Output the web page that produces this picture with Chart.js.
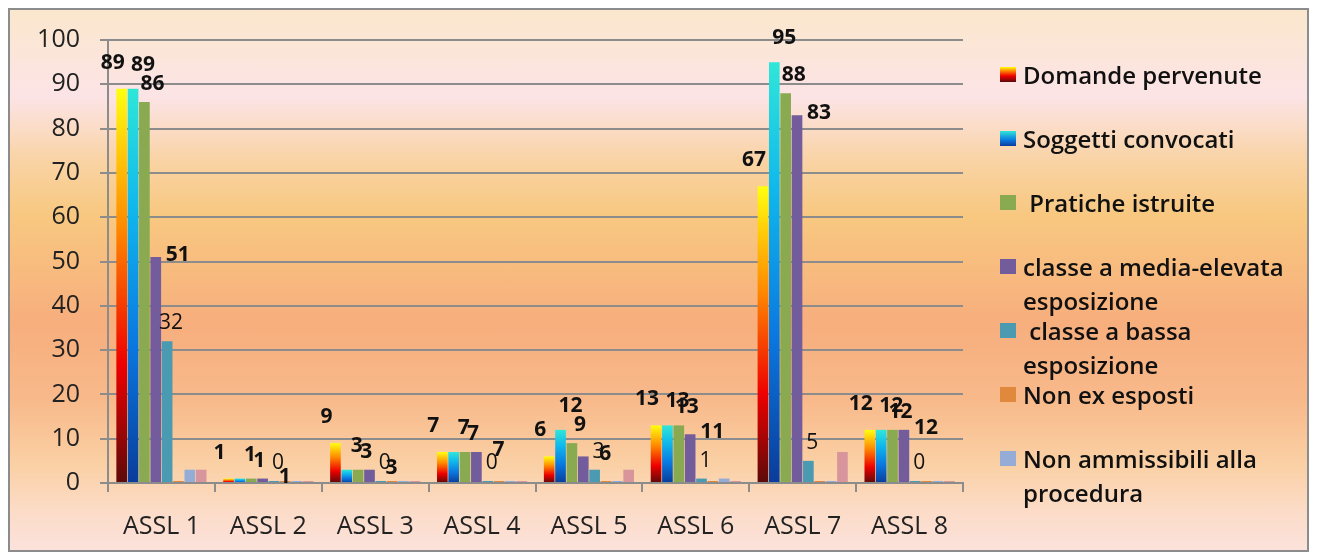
<!DOCTYPE html>
<html lang="it">
<head>
<meta charset="utf-8">
<title>ASSL – domande e pratiche</title>
<script src="https://cdn.jsdelivr.net/npm/chart.js@4.4.1/dist/chart.umd.min.js"></script>
<style>
  html, body { margin: 0; padding: 0; background: #fff; }
  #wrap {
    position: relative;
    width: 1317px; height: 558px;
  }
  #frame {
    position: absolute; left: 8px; top: 8px; width: 1297px; height: 540px;
    border: 2px solid #8c8c8c;
    background: linear-gradient(to bottom, #fbe7cd 0%, #fce4e6 16%, #f9d3a4 28%, #f8c880 38%, #f7ae7d 58%, #f8b98a 72%, #fad0a4 84%, #fcdcc8 93%, #fce2dc 100%);
  }
  canvas { position: absolute; left: 0; top: 0; }
  #legend {
    position: absolute; left: 0; top: 0;
    font-family: 'Open Sans', 'Noto Sans', sans-serif;
    font-size: 24px; font-weight: 600; color: #111;
  }
  .item { position: absolute; left: 1000px; width: 305px; line-height: 34px; }
  .item .sw { position: absolute; left: 0; top: 9px; width: 16px; height: 15px; }
  .item .tx { margin-left: 23px; white-space: pre-wrap; }
</style>
</head>
<body>
<div id="wrap">
  <div id="frame"></div>
  <canvas id="chart" width="1317" height="558"></canvas>
  <div id="legend"></div>
</div>
<script>
/* ---------- Data ---------- */
const categories = ['ASSL 1', 'ASSL 2', 'ASSL 3', 'ASSL 4', 'ASSL 5', 'ASSL 6', 'ASSL 7', 'ASSL 8'];
const domandePervenute   = [89, 1, 9, 7, 6, 13, 67, 12];
const soggettiConvocati  = [89, 1, 3, 7, 12, 13, 95, 12];
const praticheIstruite   = [86, 1, 3, 7, 9, 13, 88, 12];
const mediaElevata       = [51, 1, 3, 7, 6, 11, 83, 12];
const bassaEsposizione   = [32, 0, 0, 0, 3, 1, 5, 0];
const nonExEsposti       = [0, 0, 0, 0, 0, 0, 0, 0];
const nonAmmissibili     = [3, 0, 0, 0, 0, 1, 0, 0];
const serie8             = [3, 0, 0, 0, 3, 0, 7, 0];
const yTicks = [0, 10, 20, 30, 40, 50, 60, 70, 80, 90, 100];

const seriesNames = [
  'Domande pervenute',
  'Soggetti convocati',
  ' Pratiche istruite',
  'classe a media-elevata esposizione',
  ' classe a bassa esposizione',
  'Non ex esposti',
  'Non ammissibili alla procedura',
  'Serie 8',
];

/* ---------- Helpers ---------- */
const FONT = "'Open Sans', 'Noto Sans', sans-serif";

// vertical gradient per bar (bottom -> top)
function barGradient(stops, fallback) {
  return function (ctx) {
    const chart = ctx.chart;
    if (!chart.chartArea || ctx.raw === undefined) return fallback;
    const y = chart.scales.y;
    let top = y.getPixelForValue(ctx.raw);
    const bottom = y.getPixelForValue(0);
    if (bottom - top < 2) top = bottom - 2;
    const g = chart.ctx.createLinearGradient(0, bottom, 0, top);
    stops.forEach(s => g.addColorStop(s[0], s[1]));
    return g;
  };
}

const colors = [
  barGradient([[0, '#5c0a0a'], [0.3, '#ee0000'], [0.65, '#ff8a00'], [1, '#ffff10']], '#ff6000'),
  barGradient([[0, '#0a3c9a'], [0.35, '#0a78e0'], [0.7, '#10b8ec'], [1, '#30e6d8']], '#10a0e0'),
  '#8aaa52',
  '#735c9c',
  '#4a9ab2',
  '#e0883c',
  '#94acd6',
  '#d8969c',
];
const legendSwatch = [
  'linear-gradient(to top, #5c0a0a, #ee0000 40%, #ff8a00 75%, #ffff10)',
  'linear-gradient(to top, #0a3c9a, #0a78e0 40%, #30e6d8)',
  '#8aaa52', '#735c9c', '#4a9ab2', '#e0883c', '#94acd6',
];

const seriesData = [domandePervenute, soggettiConvocati, praticheIstruite, mediaElevata,
  bassaEsposizione, nonExEsposti, nonAmmissibili, serie8];

/* ---------- Value labels ---------- */
const labelOffsets = [[-9, -26], [10, -24], [8, -18], [22, -2], [4, -18]];
const valueLabels = {
  id: 'valueLabels',
  afterDatasetsDraw(chart) {
    const ctx = chart.ctx;
    ctx.save();
    ctx.fillStyle = '#111';
    ctx.textAlign = 'center';
    ctx.textBaseline = 'middle';
    labelOffsets.forEach((off, di) => {
      const meta = chart.getDatasetMeta(di);
      ctx.font = (di === 4 ? '400 ' : '700 ') + '21px ' + FONT;
      meta.data.forEach((bar, i) => {
        const v = chart.data.datasets[di].data[i];
        ctx.fillText(String(v), bar.x + off[0], bar.y + off[1]);
      });
    });
    ctx.restore();
  },
};

/* ---------- Chart ---------- */
const chart = new Chart(document.getElementById('chart'), {
  type: 'bar',
  data: {
    labels: categories,
    datasets: seriesData.map((d, i) => ({
      label: seriesNames[i],
      data: d,
      backgroundColor: colors[i],
      borderWidth: 0,
      minBarLength: 2,
      categoryPercentage: 0.85,
      barPercentage: 0.94,
    })),
  },
  options: {
    responsive: false,
    animation: false,
    layout: { padding: { left: 10, top: 40, right: 354, bottom: 10 } },
    plugins: {
      legend: { display: false },
      tooltip: { enabled: false },
    },
    scales: {
      x: {
        grid: {
          display: true, drawOnChartArea: false, drawTicks: true,
          tickLength: 9, color: '#8c8c8c', lineWidth: 2,
        },
        border: { display: true, color: '#8c8c8c', width: 2 },
        ticks: { color: '#222', padding: 20, font: { family: FONT, size: 25 } },
        afterFit(scale) { scale.height = 558 - 10 - 483; },
      },
      y: {
        min: 0, max: 100,
        afterBuildTicks(scale) { scale.ticks = yTicks.map(v => ({ value: v })); },
        grid: { color: '#8c8c8c', lineWidth: 2, tickLength: 8, drawTicks: true },
        border: { display: true, color: '#8c8c8c', width: 2 },
        ticks: { color: '#222', padding: 20, font: { family: FONT, size: 25 } },
        afterFit(scale) { scale.width = 108 - 10; },
      },
    },
  },
  plugins: [valueLabels],
});

/* ---------- Legend ---------- */
const legendEl = document.getElementById('legend');
seriesNames.slice(0, 7).forEach((name, i) => {
  const item = document.createElement('div');
  item.className = 'item';
  item.style.top = (58 + i * 64) + 'px';
  item.innerHTML = `<span class="sw" style="background:${legendSwatch[i]}"></span><div class="tx"></div>`;
  item.querySelector('.tx').textContent = name;
  legendEl.appendChild(item);
});
</script>
</body>
</html>
